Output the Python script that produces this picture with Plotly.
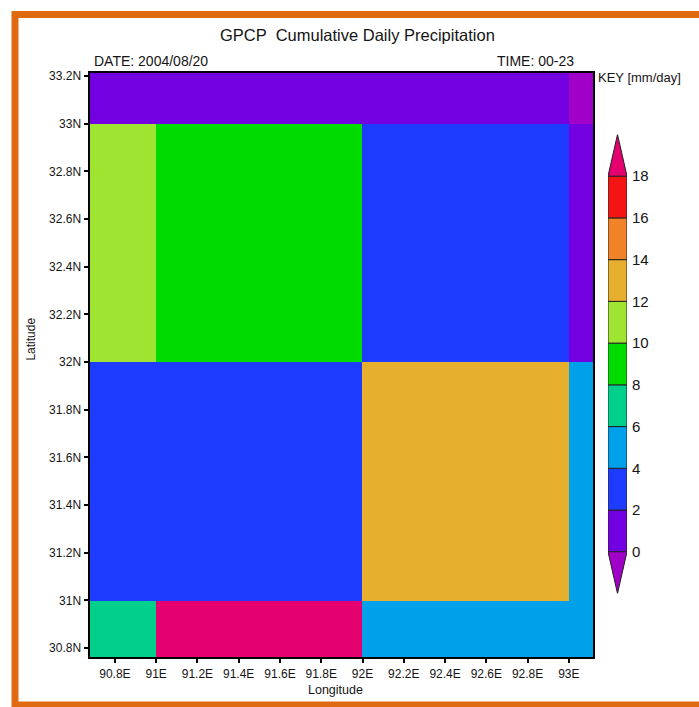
import numpy as np
import plotly.graph_objects as go

# ---- data -------------------------------------------------------------
# 1-degree grid cell edges
lon_edges = [90, 91, 92, 93, 94]
lat_edges = [30, 31, 32, 33, 34]

# cumulative daily precipitation [mm/day], rows = latitude (south -> north)
precip = [
    [7.0, 19.0, 5.0, 5.0],    # 30N-31N
    [3.0, 3.0, 13.0, 5.0],    # 31N-32N
    [11.0, 9.0, 3.0, 1.0],    # 32N-33N
    [1.0, 1.0, 1.0, 0.0],     # 33N-34N
]

# shading levels and the colours of each class (below first .. above last)
levels = [0, 2, 4, 6, 8, 10, 12, 14, 16, 18]
class_colors = [
    "rgb(160,0,200)",   # < 0
    "rgb(115,0,225)",   # 0-2
    "rgb(30,60,255)",   # 2-4
    "rgb(0,160,235)",   # 4-6
    "rgb(0,208,140)",   # 6-8
    "rgb(0,220,0)",     # 8-10
    "rgb(160,228,50)",  # 10-12
    "rgb(230,175,45)",  # 12-14
    "rgb(240,130,40)",  # 14-16
    "rgb(245,20,20)",   # 16-18
    "rgb(228,0,110)",   # > 18
]

lon_ticks = [90.8, 91.0, 91.2, 91.4, 91.6, 91.8, 92.0, 92.2, 92.4, 92.6, 92.8, 93.0]
lat_ticks = [30.8, 31.0, 31.2, 31.4, 31.6, 31.8, 32.0, 32.2, 32.4, 32.6, 32.8, 33.0, 33.2]

W, H = 699, 707
FONT = "Liberation Sans"
TXT = "#141414"


def px(x):
    return x / W


def py(y):
    return 1 - y / H


# ---- classify values into shading bins (value on a level goes to the lower bin)
z = np.asarray(precip)
cls = np.digitize(z, levels, right=True)
n_cls = len(class_colors)
colorscale = []
for i, c in enumerate(class_colors):
    colorscale.append([i / n_cls, c])
    colorscale.append([(i + 1) / n_cls, c])

fig = go.Figure()

fig.add_trace(go.Heatmap(
    x=lon_edges, y=lat_edges, z=cls,
    zmin=-0.5, zmax=n_cls - 0.5,
    colorscale=colorscale, showscale=False,
    xaxis="x", yaxis="y", hoverinfo="skip",
))

# ---- colour key: one box per interval plus triangular end caps
step = levels[1] - levels[0]
for i in range(len(levels) - 1):
    fig.add_trace(go.Bar(
        x=[0], y=[levels[i + 1] - levels[i]], base=[levels[i]],
        width=1, marker=dict(color=class_colors[i + 1],
                             line=dict(color="#222", width=1)),
        xaxis="x2", yaxis="y2", showlegend=False, hoverinfo="skip",
    ))
lo, hi = levels[0], levels[-1]
fig.add_trace(go.Scatter(
    x=[-0.5, 0.5, 0, -0.5], y=[lo, lo, lo - step, lo],
    fill="toself", fillcolor=class_colors[0], mode="lines",
    line=dict(color="#222", width=1), xaxis="x2", yaxis="y2",
    showlegend=False, hoverinfo="skip",
))
fig.add_trace(go.Scatter(
    x=[-0.5, 0.5, 0, -0.5], y=[hi, hi, hi + step, hi],
    fill="toself", fillcolor=class_colors[-1], mode="lines",
    line=dict(color="#222", width=1), xaxis="x2", yaxis="y2",
    showlegend=False, hoverinfo="skip",
))

axis_common = dict(
    showline=True, linecolor="black", linewidth=2, mirror=True,
    ticks="outside", ticklen=4, tickwidth=1.5, tickcolor="black",
    showgrid=True, gridcolor="rgba(255,255,255,0.35)", griddash="dot",
    gridwidth=1, layer="above traces", zeroline=False,
    tickfont=dict(family=FONT, size=12, color=TXT),
)

fig.update_layout(
    width=W, height=H, autosize=False,
    margin=dict(l=0, r=0, t=0, b=0),
    paper_bgcolor="white", plot_bgcolor="white",
    barmode="overlay",
    xaxis=dict(
        domain=[px(89.5), px(593)], range=[90.677, 93.117],
        tickvals=lon_ticks, ticktext=[f"{v:g}E" for v in lon_ticks],
        **axis_common,
    ),
    yaxis=dict(
        domain=[py(657), py(70)], range=[30.762, 33.214],
        tickvals=lat_ticks, ticktext=[f"{v:g}N" for v in lat_ticks],
        **axis_common,
    ),
    xaxis2=dict(domain=[px(608), px(627)], range=[-0.5, 0.5],
                visible=False, fixedrange=True),
    yaxis2=dict(domain=[py(593), py(132)], range=[lo - step, hi + step],
                anchor="x2", side="right", showgrid=False, zeroline=False,
                showline=False, ticks="", tickvals=levels,
                ticklabelstandoff=4,
                tickfont=dict(family=FONT, size=15, color=TXT)),
)

# ---- text
annots = [
    dict(text="GPCP  Cumulative Daily Precipitation", x=px(357), y=py(32),
         xanchor="center", yanchor="middle", size=16.5),
    dict(text="DATE: 2004/08/20", x=px(92), y=py(58),
         xanchor="left", yanchor="middle", size=14),
    dict(text="TIME: 00-23", x=px(576), y=py(58),
         xanchor="right", yanchor="middle", size=14),
    dict(text="KEY [mm/day]", x=px(596), y=py(75),
         xanchor="left", yanchor="middle", size=13),
    dict(text="Longitude", x=px(335), y=py(690),
         xanchor="center", yanchor="middle", size=12.5),
]
for a in annots:
    fig.add_annotation(text=a["text"], x=a["x"], y=a["y"], xref="paper",
                       yref="paper", xanchor=a["xanchor"], yanchor=a["yanchor"],
                       showarrow=False,
                       font=dict(family=FONT, size=a["size"], color=TXT))
fig.add_annotation(text="Latitude", x=px(31), y=py(338), xref="paper",
                   yref="paper", textangle=-90, showarrow=False,
                   xanchor="center", yanchor="middle",
                   font=dict(family=FONT, size=12, color=TXT))

# orange page frame
fig.add_shape(type="rect", xref="paper", yref="paper",
              x0=px(15), x1=px(760), y0=py(705), y1=py(11.5),
              line=dict(color="#E06A12", width=7), fillcolor="rgba(0,0,0,0)",
              layer="above")

fig.write_html("out.html")
